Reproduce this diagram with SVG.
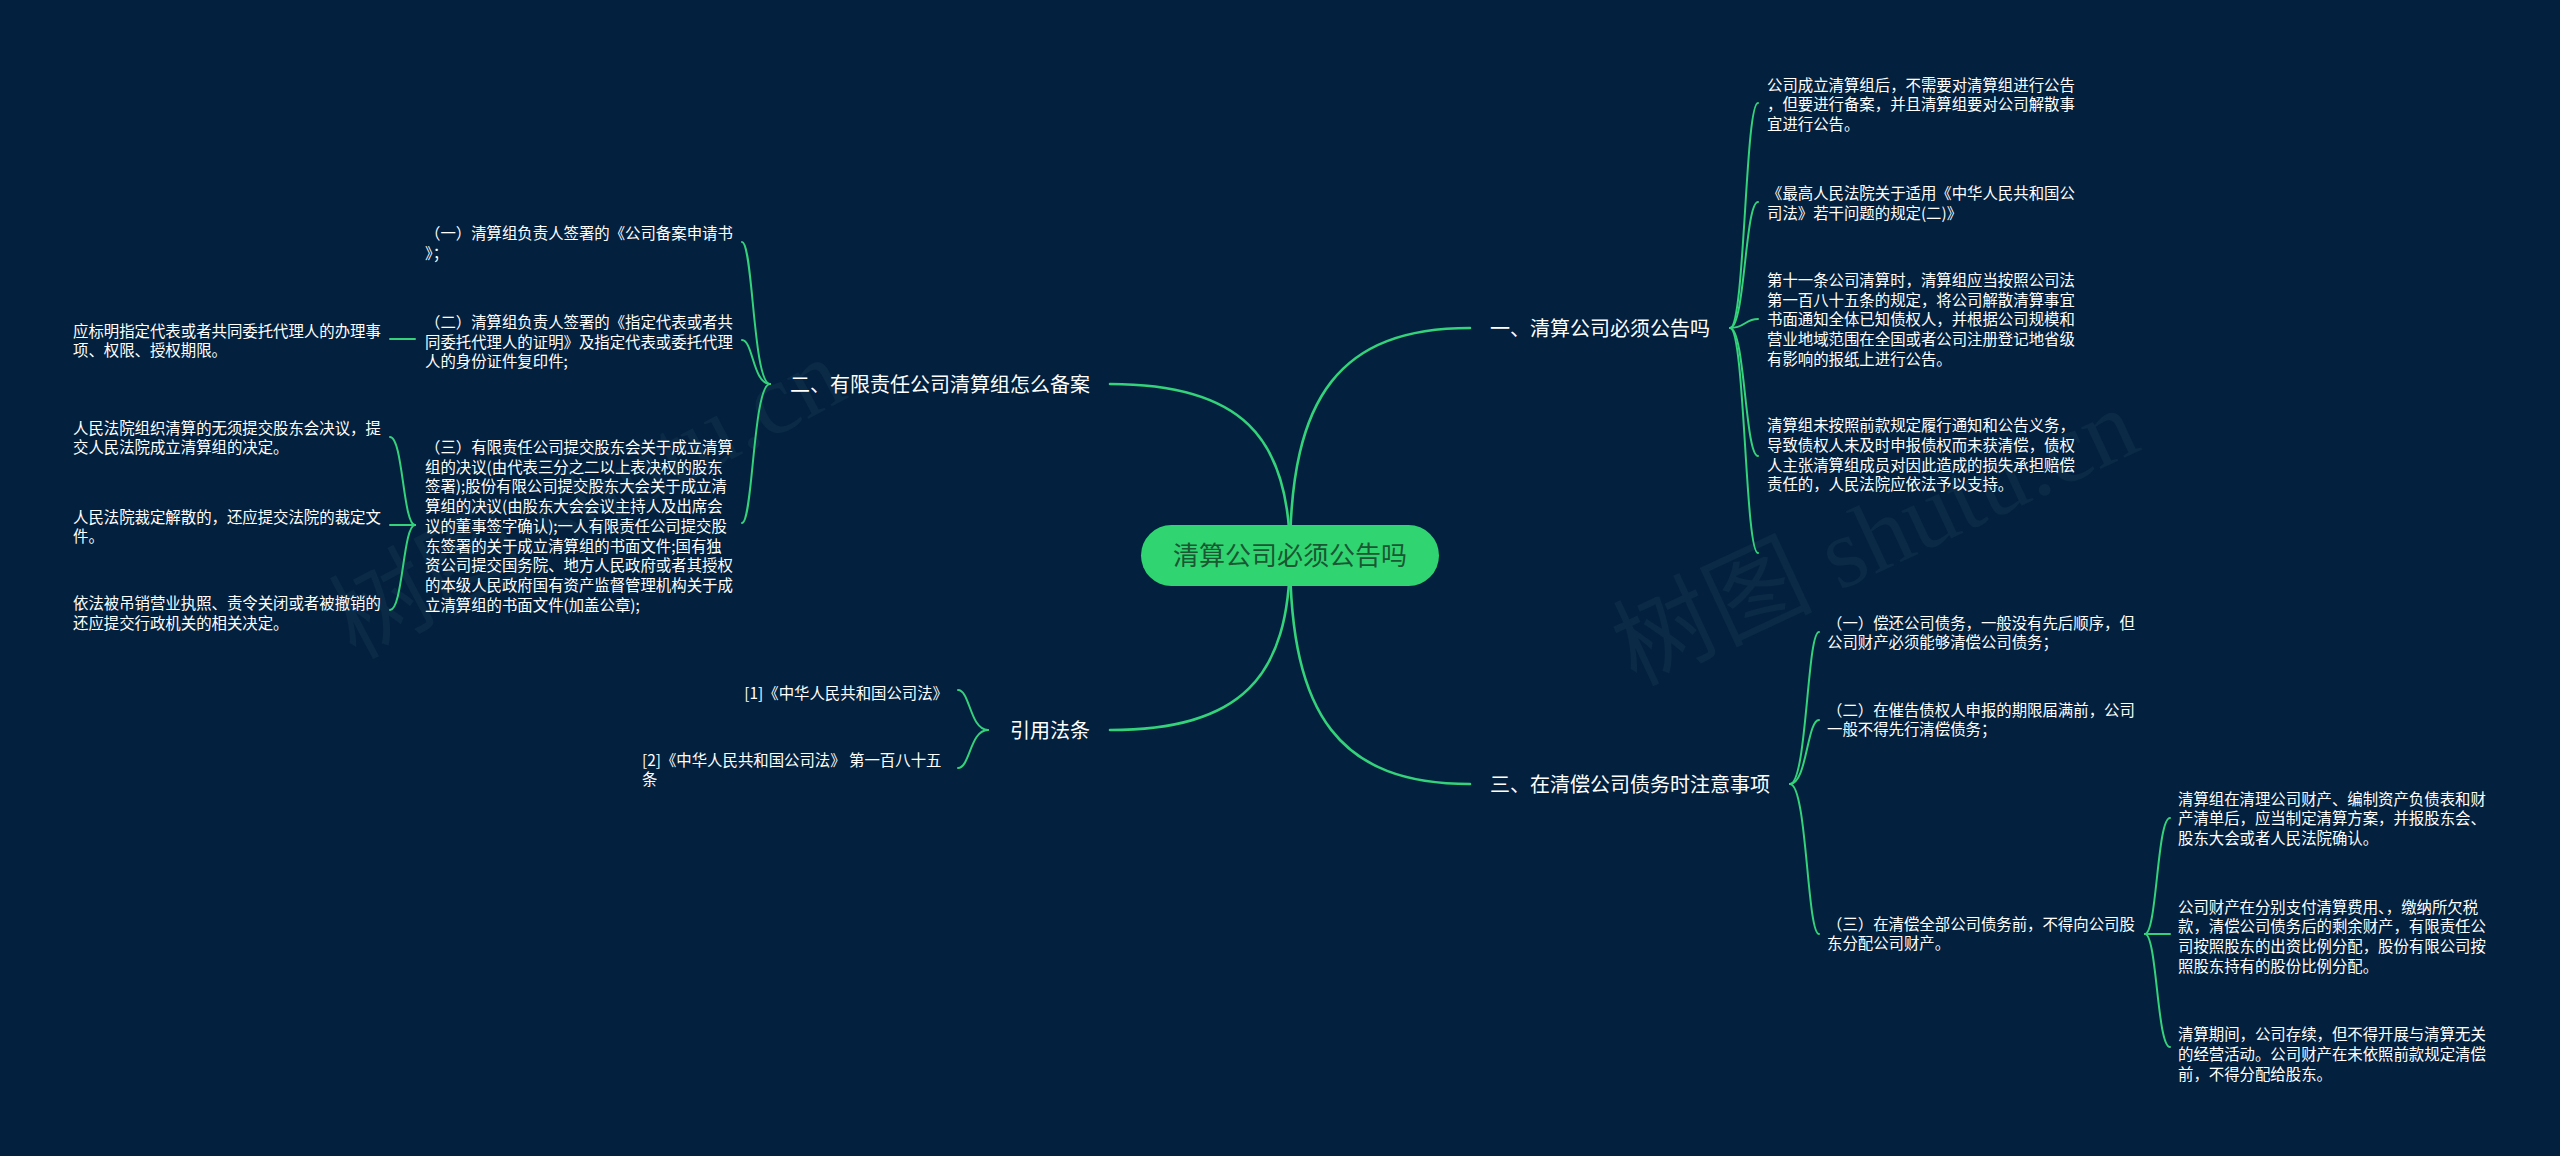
<svg xmlns="http://www.w3.org/2000/svg" width="2560" height="1156" viewBox="0 0 2560 1156">
<style>
.ln{fill:none;stroke:#34d27a;stroke-width:2;stroke-linecap:round}
.mn{stroke-width:2.6}
.t{font-family:"Noto Sans CJK SC","Microsoft YaHei","Noto Sans",sans-serif;font-size:15.4px;fill:#ffffff}
.b{font-size:20px}
.c{font-size:26px;fill:#1a5732}
.e{text-anchor:end}
.wm{font-family:"Liberation Serif","Noto Sans CJK SC",serif;font-size:100px;fill:#0b2a46}
</style>
<rect x="0" y="0" width="2560" height="1156" fill="#03213e"/>
<g id="watermark">
<text class="wm" x="355" y="660" transform="rotate(-28 355 660)">树图 shutu.cn</text>
<text class="wm" x="1635" y="686" transform="rotate(-25 1635 686)">树图 shutu.cn</text>
</g>
<g id="connectors">
<path class="ln mn" d="M1290,555 C1290,396 1340,328 1470,328"/>
<path class="ln mn" d="M1290,555 C1290,436 1240,384 1110,384"/>
<path class="ln mn" d="M1290,555 C1290,678 1240,730 1110,730"/>
<path class="ln mn" d="M1290,555 C1290,716 1340,784 1470,784"/>
<path class="ln" d="M1730,328 C1745,328 1745,103 1758,103"/>
<path class="ln" d="M1730,328 C1745,328 1745,202 1758,202"/>
<path class="ln" d="M1730,328 C1745,328 1745,319 1758,319"/>
<path class="ln" d="M1730,328 C1745,328 1745,456 1758,456"/>
<path class="ln" d="M1730,328 C1745,328 1745,553 1758,553"/>
<path class="ln" d="M770,384 C753,384 753,242 742,242"/>
<path class="ln" d="M770,384 C753,384 753,340 742,340"/>
<path class="ln" d="M770,384 C753,384 753,523 742,523"/>
<path class="ln" d="M415,339 L390,339"/>
<path class="ln" d="M415,525 C403,525 403,437 390,437"/>
<path class="ln" d="M415,525 L390,525"/>
<path class="ln" d="M415,525 C403,525 403,610 390,610"/>
<path class="ln" d="M988,730 C970,730 970,690 958,690"/>
<path class="ln" d="M988,730 C970,730 970,768 958,768"/>
<path class="ln" d="M1790,784 C1807,784 1807,632 1819,632"/>
<path class="ln" d="M1790,784 C1807,784 1807,720 1819,720"/>
<path class="ln" d="M1790,784 C1807,784 1807,934 1819,934"/>
<path class="ln" d="M2145,934 C2157,934 2157,818 2170,818"/>
<path class="ln" d="M2145,934 L2170,934"/>
<path class="ln" d="M2145,934 C2157,934 2157,1047 2170,1047"/>
</g>
<g id="root">
<rect x="1141" y="525" width="298" height="61" rx="30.5" fill="#30d571"/>
<text class="t c" x="1290" y="565.4" text-anchor="middle">清算公司必须公告吗</text>
</g>
<g id="b1"><text class="t b" x="1490" y="335.6">一、清算公司必须公告吗</text></g>
<g id="b2"><text class="t b e" x="1090" y="391.6">二、有限责任公司清算组怎么备案</text></g>
<g id="b3"><text class="t b e" x="1090" y="737.6">引用法条</text></g>
<g id="b4"><text class="t b" x="1490" y="791.6">三、在清偿公司债务时注意事项</text></g>
<g id="b1c1"><text class="t" x="1767"><tspan x="1767" y="90.8">公司成立清算组后，不需要对清算组进行公告</tspan><tspan x="1767" y="110.4">，但要进行备案，并且清算组要对公司解散事</tspan><tspan x="1767" y="130">宜进行公告。</tspan></text></g>
<g id="b1c2"><text class="t" x="1767"><tspan x="1767" y="199.3">《最高人民法院关于适用《中华人民共和国公</tspan><tspan x="1767" y="218.9">司法》若干问题的规定(二)》</tspan></text></g>
<g id="b1c3"><text class="t" x="1767"><tspan x="1767" y="286.2">第十一条公司清算时，清算组应当按照公司法</tspan><tspan x="1767" y="305.8">第一百八十五条的规定，将公司解散清算事宜</tspan><tspan x="1767" y="325.4">书面通知全体已知债权人，并根据公司规模和</tspan><tspan x="1767" y="345">营业地域范围在全国或者公司注册登记地省级</tspan><tspan x="1767" y="364.6">有影响的报纸上进行公告。</tspan></text></g>
<g id="b1c4"><text class="t" x="1767"><tspan x="1767" y="431.4">清算组未按照前款规定履行通知和公告义务，</tspan><tspan x="1767" y="451">导致债权人未及时申报债权而未获清偿，债权</tspan><tspan x="1767" y="470.6">人主张清算组成员对因此造成的损失承担赔偿</tspan><tspan x="1767" y="490.2">责任的，人民法院应依法予以支持。</tspan></text></g>
<g id="b2c1"><text class="t" x="425"><tspan x="425" y="239.2">（一）清算组负责人签署的《公司备案申请书</tspan><tspan x="425" y="258.8">》；</tspan></text></g>
<g id="b2c2"><text class="t" x="425"><tspan x="425" y="328.2">（二）清算组负责人签署的《指定代表或者共</tspan><tspan x="425" y="347.8">同委托代理人的证明》及指定代表或委托代理</tspan><tspan x="425" y="367.4">人的身份证件复印件;</tspan></text></g>
<g id="b2c3"><text class="t" x="425"><tspan x="425" y="453">（三）有限责任公司提交股东会关于成立清算</tspan><tspan x="425" y="472.7">组的决议(由代表三分之二以上表决权的股东</tspan><tspan x="425" y="492.4">签署);股份有限公司提交股东大会关于成立清</tspan><tspan x="425" y="512.1">算组的决议(由股东大会会议主持人及出席会</tspan><tspan x="425" y="531.8">议的董事签字确认);一人有限责任公司提交股</tspan><tspan x="425" y="551.5">东签署的关于成立清算组的书面文件;国有独</tspan><tspan x="425" y="571.2">资公司提交国务院、地方人民政府或者其授权</tspan><tspan x="425" y="590.9">的本级人民政府国有资产监督管理机构关于成</tspan><tspan x="425" y="610.6">立清算组的书面文件(加盖公章);</tspan></text></g>
<g id="b2c2a"><text class="t" x="73"><tspan x="73" y="336.8">应标明指定代表或者共同委托代理人的办理事</tspan><tspan x="73" y="356.4">项、权限、授权期限。</tspan></text></g>
<g id="b2c3a"><text class="t" x="73"><tspan x="73" y="433.8">人民法院组织清算的无须提交股东会决议，提</tspan><tspan x="73" y="453.4">交人民法院成立清算组的决定。</tspan></text></g>
<g id="b2c3b"><text class="t" x="73"><tspan x="73" y="522.8">人民法院裁定解散的，还应提交法院的裁定文</tspan><tspan x="73" y="542.4">件。</tspan></text></g>
<g id="b2c3c"><text class="t" x="73"><tspan x="73" y="609.2">依法被吊销营业执照、责令关闭或者被撤销的</tspan><tspan x="73" y="628.8">还应提交行政机关的相关决定。</tspan></text></g>
<g id="b3c1"><text class="t e" x="948" y="698.8">[1]《中华人民共和国公司法》</text></g>
<g id="b3c2"><text class="t" x="642"><tspan x="642" y="765.8">[2]《中华人民共和国公司法》 第一百八十五</tspan><tspan x="642" y="785.4">条</tspan></text></g>
<g id="b4c1"><text class="t" x="1827"><tspan x="1827" y="628.8">（一）偿还公司债务，一般没有先后顺序，但</tspan><tspan x="1827" y="648.4">公司财产必须能够清偿公司债务；</tspan></text></g>
<g id="b4c2"><text class="t" x="1827"><tspan x="1827" y="715.8">（二）在催告债权人申报的期限届满前，公司</tspan><tspan x="1827" y="735.4">一般不得先行清偿债务；</tspan></text></g>
<g id="b4c3"><text class="t" x="1827"><tspan x="1827" y="929.8">（三）在清偿全部公司债务前，不得向公司股</tspan><tspan x="1827" y="949.4">东分配公司财产。</tspan></text></g>
<g id="b4c3a"><text class="t" x="2178"><tspan x="2178" y="804.8">清算组在清理公司财产、编制资产负债表和财</tspan><tspan x="2178" y="824.4">产清单后，应当制定清算方案，并报股东会、</tspan><tspan x="2178" y="844">股东大会或者人民法院确认。</tspan></text></g>
<g id="b4c3b"><text class="t" x="2178"><tspan x="2178" y="912.8">公司财产在分别支付清算费用、，缴纳所欠税</tspan><tspan x="2178" y="932.4">款，清偿公司债务后的剩余财产，有限责任公</tspan><tspan x="2178" y="952">司按照股东的出资比例分配，股份有限公司按</tspan><tspan x="2178" y="971.6">照股东持有的股份比例分配。</tspan></text></g>
<g id="b4c3c"><text class="t" x="2178"><tspan x="2178" y="1040.3">清算期间，公司存续，但不得开展与清算无关</tspan><tspan x="2178" y="1059.9">的经营活动。公司财产在未依照前款规定清偿</tspan><tspan x="2178" y="1079.5">前，不得分配给股东。</tspan></text></g>
</svg>
